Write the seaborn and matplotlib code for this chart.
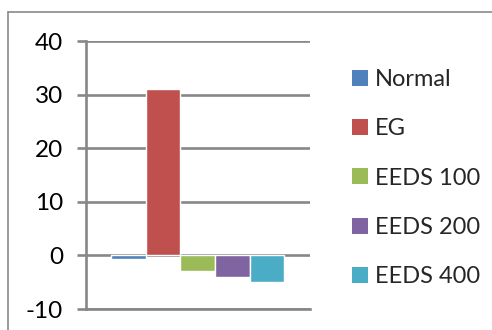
import matplotlib
matplotlib.use("Agg")
import matplotlib.pyplot as plt
import seaborn as sns
import pandas as pd
from matplotlib.lines import Line2D

sns.set_style("white")
plt.rcParams['font.family'] = ['Lato', 'DejaVu Sans']
plt.rcParams['axes.unicode_minus'] = False

# data
groups = ['Normal', 'EG', 'EEDS 100', 'EEDS 200', 'EEDS 400']
values = [-0.6, 31.0, -3.0, -4.0, -4.9]
colors = ['#4F81BD', '#C0504D', '#9BBB59', '#8064A2', '#4BACC6']
yticks = [-10, 0, 10, 20, 30, 40]

df = pd.DataFrame({'group': groups, 'value': values})

fig = plt.figure(figsize=(4.92, 3.30), dpi=100)
ax = fig.add_axes([86/492, 21/330, 224/492, 268/330])

sns.barplot(data=df, x='group', y='value', hue='group', palette=colors,
            width=1.0, saturation=1, legend=False, ax=ax, zorder=3)

grid_c = '#878787'
lw = 1.9
ax.set_ylim(-10, 40)
ax.set_xlim(-1.22, 5.24)
ax.set_yticks(yticks)
ax.set_xticks([])
ax.set_xlabel('')
ax.set_ylabel('')
ax.grid(axis='y', color=grid_c, linewidth=lw, zorder=0)
ax.set_axisbelow(True)
for s in ['top', 'right']:
    ax.spines[s].set_visible(False)
ax.spines['left'].set_color(grid_c)
ax.spines['left'].set_linewidth(lw)
ax.spines['bottom'].set_color(grid_c)
ax.spines['bottom'].set_linewidth(lw)
ax.tick_params(axis='y', direction='out', length=6.5, width=lw, color=grid_c,
               labelsize=17.5, pad=10, left=True)
for lab in ax.get_yticklabels():
    lab.set_color('black')

# legend with square handles
handles = [plt.Rectangle((0, 0), 1, 1, facecolor=c, edgecolor='none') for c in colors]
leg = fig.legend(handles, groups, loc='upper left', bbox_to_anchor=(352/492, 1 - 69/330),
                 frameon=False, fontsize=17, handlelength=0.66, handleheight=0.66,
                 handletextpad=0.3, labelspacing=1.2, borderaxespad=0, borderpad=0)

# outer chart border (only top and left visible in the crop)
fig.add_artist(Line2D([8/492, 8/492], [0, 1 - 11.5/330], transform=fig.transFigure,
                      color='#8a8a8a', linewidth=1.2))
fig.add_artist(Line2D([8/492, 1], [1 - 11.5/330, 1 - 11.5/330], transform=fig.transFigure,
                      color='#8a8a8a', linewidth=1.2))

fig.savefig('out.png', dpi=100)
